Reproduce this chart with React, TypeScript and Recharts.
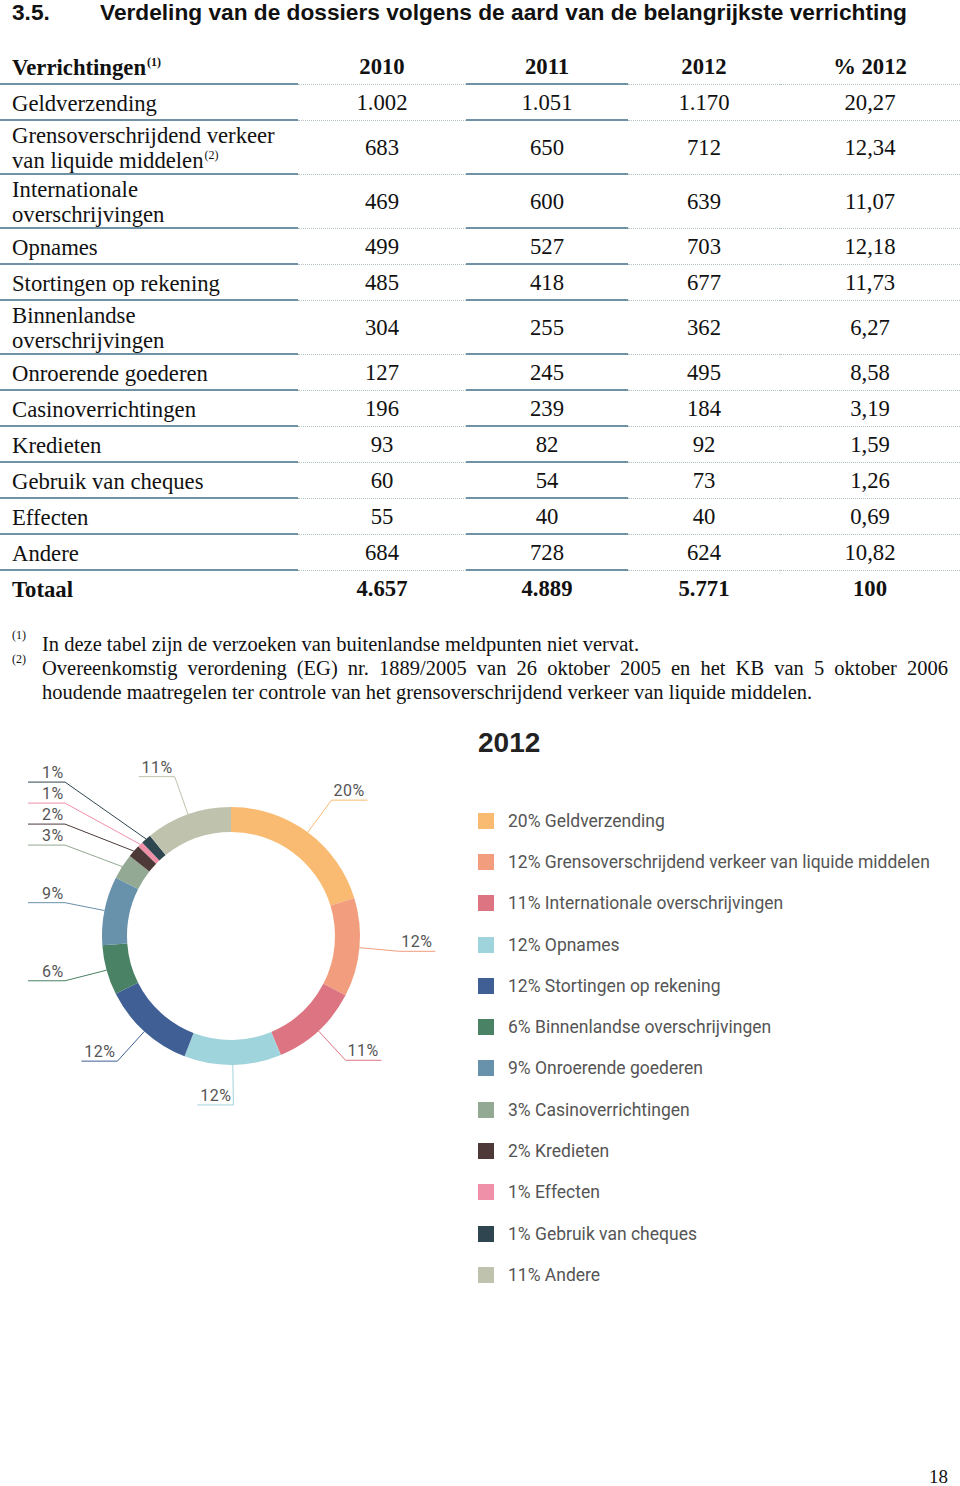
import React from "react";
import { PieChart, Pie, Cell, Legend } from "recharts";

// table data
const years = ["2010", "2011", "2012"];
const rowLabels = [
    ["Geldverzending"],
    ["Grensoverschrijdend verkeer", "van liquide middelen"],
    ["Internationale", "overschrijvingen"],
    ["Opnames"],
    ["Stortingen op rekening"],
    ["Binnenlandse", "overschrijvingen"],
    ["Onroerende goederen"],
    ["Casinoverrichtingen"],
    ["Kredieten"],
    ["Gebruik van cheques"],
    ["Effecten"],
    ["Andere"],
];
const rowNotes: Record<number, string> = { 1: "(2)" };
const values2010 = [1002, 683, 469, 499, 485, 304, 127, 196, 93, 60, 55, 684];
const values2011 = [1051, 650, 600, 527, 418, 255, 245, 239, 82, 54, 40, 728];
const values2012 = [1170, 712, 639, 703, 677, 362, 495, 184, 92, 73, 40, 624];
const pct2012 = [20.27, 12.34, 11.07, 12.18, 11.73, 6.27, 8.58, 3.19, 1.59, 1.26, 0.69, 10.82];

// donut data (legend order)
const pieNames = [
    "Geldverzending",
    "Grensoverschrijdend verkeer van liquide middelen",
    "Internationale overschrijvingen",
    "Opnames",
    "Stortingen op rekening",
    "Binnenlandse overschrijvingen",
    "Onroerende goederen",
    "Casinoverrichtingen",
    "Kredieten",
    "Effecten",
    "Gebruik van cheques",
    "Andere",
];
const pieValues = [1170, 712, 639, 703, 677, 362, 495, 184, 92, 40, 73, 624];
const pieColors = [
    "#f9bb72", "#f29d7e", "#dc7581", "#a0d4dc", "#3f5f95", "#4a8265",
    "#6891ab", "#93a993", "#4d3a38", "#f090a8", "#2f4550", "#bfc3ad",
];

const serif = '"Liberation Serif", "Times New Roman", serif';
const sans = '"Liberation Sans", Arial, sans-serif';
const light = 'Roboto, "Noto Sans", sans-serif';

const COLS = [0, 298, 466, 628, 780, 960];
const SOLID = "#6f93a5";
const DOTTED = "#b4c1c7";

const fmtInt = (n: number) => String(n).replace(/\B(?=(\d{3})+(?!\d))/g, ".");
const fmtPct = (n: number) => n.toFixed(2).replace(".", ",");
const sum = (a: number[]) => a.reduce((s, v) => s + v, 0);

const pieData = pieNames.map((name, i) => ({ name, value: pieValues[i] }));
const pieTotal = sum(pieValues);

const R_OUT = 129;
const R_IN = 104;
const R_LBL = R_OUT + 40;

// clock angle of each slice middle (0 = top, clockwise)
const midClock = pieValues.map((v, i) => ((sum(pieValues.slice(0, i)) + v / 2) / pieTotal) * 360);

// the crowded upper-left labels go in a column, pushed up so they don't overlap
const colY: Record<number, number> = {};
midClock
    .map((a, i) => ({ i, y: -R_LBL * Math.cos(a * Math.PI / 180), a }))
    .filter((d) => d.a > 240 && d.a < 330)
    .sort((p, q) => q.y - p.y)
    .forEach((d, k, arr) => {
        colY[d.i] = k === 0 ? d.y : Math.min(d.y, colY[arr[k - 1].i] - 21);
    });

const RAD = Math.PI / 180;

const renderLabel = (props: any) => {
    const { cx, cy, midAngle, index, percent } = props;
    const color = pieColors[index];
    const sx = cx + R_OUT * Math.cos(-midAngle * RAD);
    const sy = cy + R_OUT * Math.sin(-midAngle * RAD);
    const txt = `${Math.round(percent * 100)}%`;
    const textStyle = { fontFamily: light, fontSize: 16, fill: "#555", letterSpacing: 0.5 };
    if (colY[index] !== undefined) {
        const ly = cy + colY[index];
        return (
            <g key={`l${index}`}>
                <path d={`M${sx},${sy}L${cx - 166},${ly}L${cx - 203},${ly}`} stroke={color} fill="none" strokeWidth={1}/>
                <text x={cx - 189} y={ly - 4} textAnchor="start" style={textStyle}>{txt}</text>
            </g>
        );
    }
    const a = (90 - midAngle + 360) % 360;
    const ex = cx + R_LBL * Math.sin(a * RAD);
    const ey = cy - R_LBL * Math.cos(a * RAD);
    const dir = a < 175 ? 1 : -1;
    return (
        <g key={`l${index}`}>
            <path d={`M${sx},${sy}L${ex},${ey}L${ex + dir * 36},${ey}`} stroke={color} fill="none" strokeWidth={1}/>
            <text x={ex + dir * 2} y={ey - 4} textAnchor={dir > 0 ? "start" : "end"} style={textStyle}>{txt}</text>
        </g>
    );
};

const renderLegend = () => (
    <div style={{ fontFamily: light }}>
        <div style={{ height: 46, lineHeight: "46px", fontFamily: sans, fontSize: 28, fontWeight: 700, color: "#222" }}>
            2012
        </div>
        <div style={{ height: 34 }}/>
        {pieNames.map((name, i) => (
            <div key={name} style={{ height: 41.3, display: "flex", alignItems: "center" }}>
                <span style={{ width: 16, height: 16, background: pieColors[i], marginRight: 14, flexShrink: 0 }}/>
                <span style={{ fontSize: 17.5, color: "#555", whiteSpace: "nowrap" }}>
                    {Math.round((pieValues[i] / pieTotal) * 100)}% {name}
                </span>
            </div>
        ))}
    </div>
);

const supStyle: React.CSSProperties = { fontSize: 12, position: "relative", top: -9, lineHeight: 0, marginLeft: 1 };

function RowRule() {
    return (
        <>
            {COLS.slice(0, -1).map((x0, i) => {
                const solid = i === 0 || i === 2;
                return (
                    <div key={i} style={{
                        position: "absolute", left: x0, width: COLS[i + 1] - x0, bottom: 0,
                        borderTop: solid ? `2px solid ${SOLID}` : `1px dotted ${DOTTED}`,
                    }}/>
                );
            })}
        </>
    );
}

function ValueCell({ col, h, children, bold }: { col: number; h: number; children: React.ReactNode; bold?: boolean }) {
    return (
        <div style={{
            position: "absolute", left: COLS[col], width: COLS[col + 1] - COLS[col], top: 0, height: h,
            display: "flex", alignItems: "center", justifyContent: "center", fontWeight: bold ? 700 : 400,
        }}>
            {children}
        </div>
    );
}

function Row({ top, h, label, cells, bold, rule, note }: {
    top: number; h: number; label: string[]; cells: string[]; bold?: boolean; rule?: boolean; note?: string;
}) {
    return (
        <div style={{ position: "absolute", left: 0, top, width: 960, height: h }}>
            <div style={{
                position: "absolute", left: 12, top: 0, height: h, display: "flex", flexDirection: "column",
                justifyContent: "center", lineHeight: "25px", fontWeight: bold ? 700 : 400, whiteSpace: "nowrap",
            }}>
                {label.map((l, i) => (
                    <div key={i} style={{ height: 25 }}>
                        {l}
                        {note && i === label.length - 1 ? <span style={supStyle}>{note}</span> : null}
                    </div>
                ))}
            </div>
            {cells.map((c, i) => <ValueCell key={i} col={i + 1} h={h} bold={bold}>{c}</ValueCell>)}
            {rule ? <RowRule/> : null}
        </div>
    );
}

export default function App() {
    let y = 49;
    const rows: React.ReactNode[] = [];
    rows.push(
        <Row key="head" top={y} h={36} bold rule label={["Verrichtingen"]} note="(1)"
             cells={[...years, "% 2012"]}/>
    );
    y += 36;
    rowLabels.forEach((lbl, i) => {
        const h = lbl.length === 2 ? 54 : 36;
        rows.push(
            <Row key={i} top={y} h={h} rule label={lbl} note={rowNotes[i]}
                 cells={[fmtInt(values2010[i]), fmtInt(values2011[i]), fmtInt(values2012[i]), fmtPct(pct2012[i])]}/>
        );
        y += h;
    });
    rows.push(
        <Row key="tot" top={y} h={36} bold label={["Totaal"]}
             cells={[fmtInt(sum(values2010)), fmtInt(sum(values2011)), fmtInt(sum(values2012)), String(Math.round(sum(pct2012)))]}/>
    );

    const titleStyle: React.CSSProperties = {
        position: "absolute", top: 0, fontFamily: sans, fontWeight: 700, fontSize: 22.7,
        lineHeight: "24px", color: "#111", whiteSpace: "nowrap",
    };

    return (
        <div style={{ position: "relative", width: 960, height: 1486, background: "#fff", overflow: "hidden" }}>
            <style>{`body{margin:0}`}</style>
            <div style={{ ...titleStyle, left: 12 }}>3.5.</div>
            <div style={{ ...titleStyle, left: 100 }}>
                Verdeling van de dossiers volgens de aard van de belangrijkste verrichting
            </div>

            <div style={{ fontFamily: serif, fontSize: 22.7, color: "#111" }}>{rows}</div>

            <div style={{ position: "absolute", left: 12, top: 628, fontFamily: serif, fontSize: 12, color: "#111" }}>(1)</div>
            <div style={{ position: "absolute", left: 12, top: 652, fontFamily: serif, fontSize: 12, color: "#111" }}>(2)</div>
            <div style={{ position: "absolute", left: 42, top: 632, width: 906, fontFamily: serif, fontSize: 20.5, lineHeight: "24px", color: "#111", whiteSpace: "nowrap" }}>
                <div>In deze tabel zijn de verzoeken van buitenlandse meldpunten niet vervat.</div>
                <div style={{ textAlign: "justify", textAlignLast: "justify", whiteSpace: "normal" }}>
                    Overeenkomstig verordening (EG) nr. 1889/2005 van 26 oktober 2005 en het KB van 5 oktober 2006
                </div>
                <div>houdende maatregelen ter controle van het grensoverschrijdend verkeer van liquide middelen.</div>
            </div>

            <div style={{ position: "absolute", left: 0, top: 720 }}>
                <PieChart width={960} height={600} margin={{ top: 0, right: 0, bottom: 0, left: 0 }}>
                    <Pie data={pieData} dataKey="value" nameKey="name" cx={231} cy={216}
                         innerRadius={R_IN} outerRadius={R_OUT} startAngle={90} endAngle={-270}
                         stroke="none" label={renderLabel} labelLine={false} isAnimationActive={false}>
                        {pieData.map((d, i) => <Cell key={d.name} fill={pieColors[i]}/>)}
                    </Pie>
                    <Legend layout="vertical" align="right" verticalAlign="top" content={renderLegend}
                            wrapperStyle={{ left: 478, top: 0, right: "auto", width: 470 }}/>
                </PieChart>
            </div>

            <div style={{ position: "absolute", left: 929, top: 1466, fontFamily: serif, fontSize: 19, color: "#111" }}>18</div>
        </div>
    );
}
